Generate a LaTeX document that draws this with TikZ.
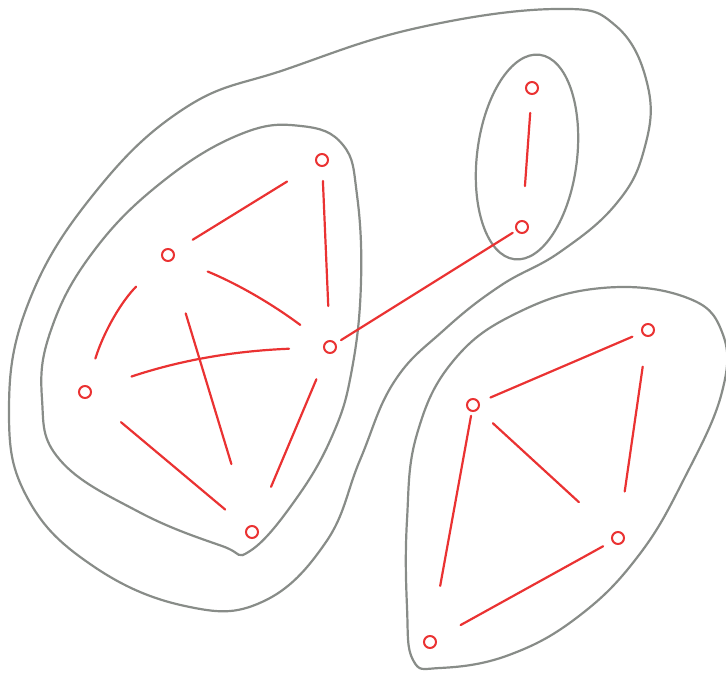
\documentclass[tikz,border=0pt]{standalone}
\usetikzlibrary{positioning}
\definecolor{pencilRed}{RGB}{234,50,50}
\definecolor{pencilGrey}{RGB}{136,140,136}
\tikzset{
  vtx/.style={circle,draw=pencilRed,line width=2pt,minimum size=12pt,inner sep=0pt},
  link/.style 2 args={draw=pencilRed,line width=2.2pt,line cap=round,shorten <=#1,shorten >=#2},
  hull/.style={draw=pencilGrey,line width=2.2pt}
}

\begin{document}
\begin{tikzpicture}[x=1pt,y=-1pt]
  \useasboundingbox (0,0) rectangle (726,680);

  % grey hulls
  \draw[hull] plot[smooth cycle,tension=0.7] coordinates {
    (287,69) (417,28) (556,9) (616,26) (648,87) (644,150) (616,204) (560,252)
    (500,286) (444,330) (394,382) (360,460) (326,542) (262,602) (185,606)
    (93,566) (28,499) (9,412) (28,304) (93,195) (185,108)};
  \draw[hull] plot[smooth cycle,tension=0.7] coordinates {
    (301,126) (343,145) (357,195) (361,282) (352,369) (333,434) (296,499)
    (250,551) (222,546) (139,512) (60,460) (42,399) (51,330) (93,252)
    (162,182) (241,134)};
  \draw[hull] (527,157) ellipse[x radius=50,y radius=103,rotate=-7];
  \draw[hull] plot[smooth cycle,tension=0.7] coordinates {
    (602,288) (685,297) (722,332) (722,392) (685,477) (639,555) (579,616)
    (509,655) (440,668) (413,660) (407,607) (407,520) (417,434) (454,360)
    (519,312)};

  % left cluster
  \node[vtx] (la) at (322,160) {};
  \node[vtx] (lb) at (168,255) {};
  \node[vtx] (lc) at (330,347) {};
  \node[vtx] (ld) at (85,392) {};
  \node[vtx] (le) at (252,532) {};
  % top pair
  \node[vtx] (tf) at (532,88) {};
  \node[vtx] (tg) at (522,227) {};
  % right cluster
  \node[vtx] (rh) at (648,330) {};
  \node[vtx] (ri) at (473,405) {};
  \node[vtx] (rj) at (618,538) {};
  \node[vtx] (rk) at (430,642) {};

  \draw[link={22pt}{34pt}] (lb) -- (la);
  \draw[link={14pt}{34pt}] (la) -- (lc);
  \draw[link={36pt}{30pt}] (lb) to[bend left=7] (lc);
  \draw[link={38pt}{28pt}] (lb) to[bend right=14] (ld);
  \draw[link={54pt}{64pt}] (lb) -- (le);
  \draw[link={42pt}{34pt}] (ld) to[bend left=8] (lc);
  \draw[link={40pt}{28pt}] (ld) -- (le);
  \draw[link={28pt}{42pt}] (lc) -- (le);
  \draw[link={6pt}{4pt}] (lc) -- (tg);
  \draw[link={18pt}{34pt}] (tf) -- (tg);
  \draw[link={12pt}{10pt}] (ri) -- (rh);
  \draw[link={30pt}{40pt}] (rh) -- (rj);
  \draw[link={20pt}{46pt}] (ri) -- (rj);
  \draw[link={4pt}{50pt}] (ri) -- (rk);
  \draw[link={28pt}{10pt}] (rk) -- (rj);
\end{tikzpicture}
\end{document}
